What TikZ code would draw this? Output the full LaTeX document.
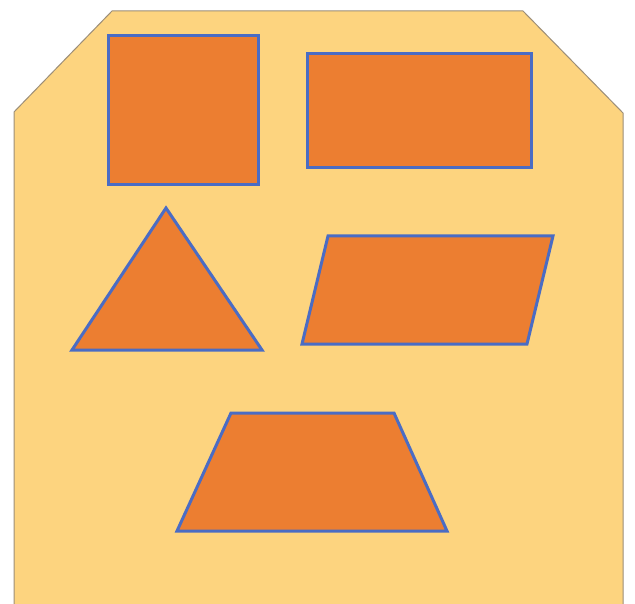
\documentclass[tikz,border=0pt]{standalone}
\definecolor{bgfill}{HTML}{FDD47F}
\definecolor{shapefill}{HTML}{EC7E31}
\definecolor{shapeedge}{HTML}{4A6CC4}
\definecolor{bgedge}{HTML}{9C8E78}
\tikzset{
  shapepoly/.style={fill=shapefill, draw=shapeedge, line width=3pt, line join=miter},
  board/.style={fill=bgfill, draw=bgedge, line width=1pt}
}
\begin{document}
\begin{tikzpicture}[x=1pt,y=-1pt]
\useasboundingbox (0,0) rectangle (635,604);
\fill[white] (0,0) rectangle (635,604);
% board
\draw[board] (14,606) -- (14,112) -- (112,11) -- (523,11) -- (623,113) -- (623,606);
% square
\draw[shapepoly] (108,36) rectangle (258,185);
% rectangle
\draw[shapepoly] (307,54) rectangle (531,168);
% triangle
\draw[shapepoly] (166,208) -- (262,350) -- (72,350) -- cycle;
% parallelogram
\draw[shapepoly] (328,236) -- (553,236) -- (527,344) -- (302,344) -- cycle;
% trapezoid
\draw[shapepoly] (231,413) -- (394,413) -- (447,531) -- (177,531) -- cycle;
\end{tikzpicture}
\end{document}
